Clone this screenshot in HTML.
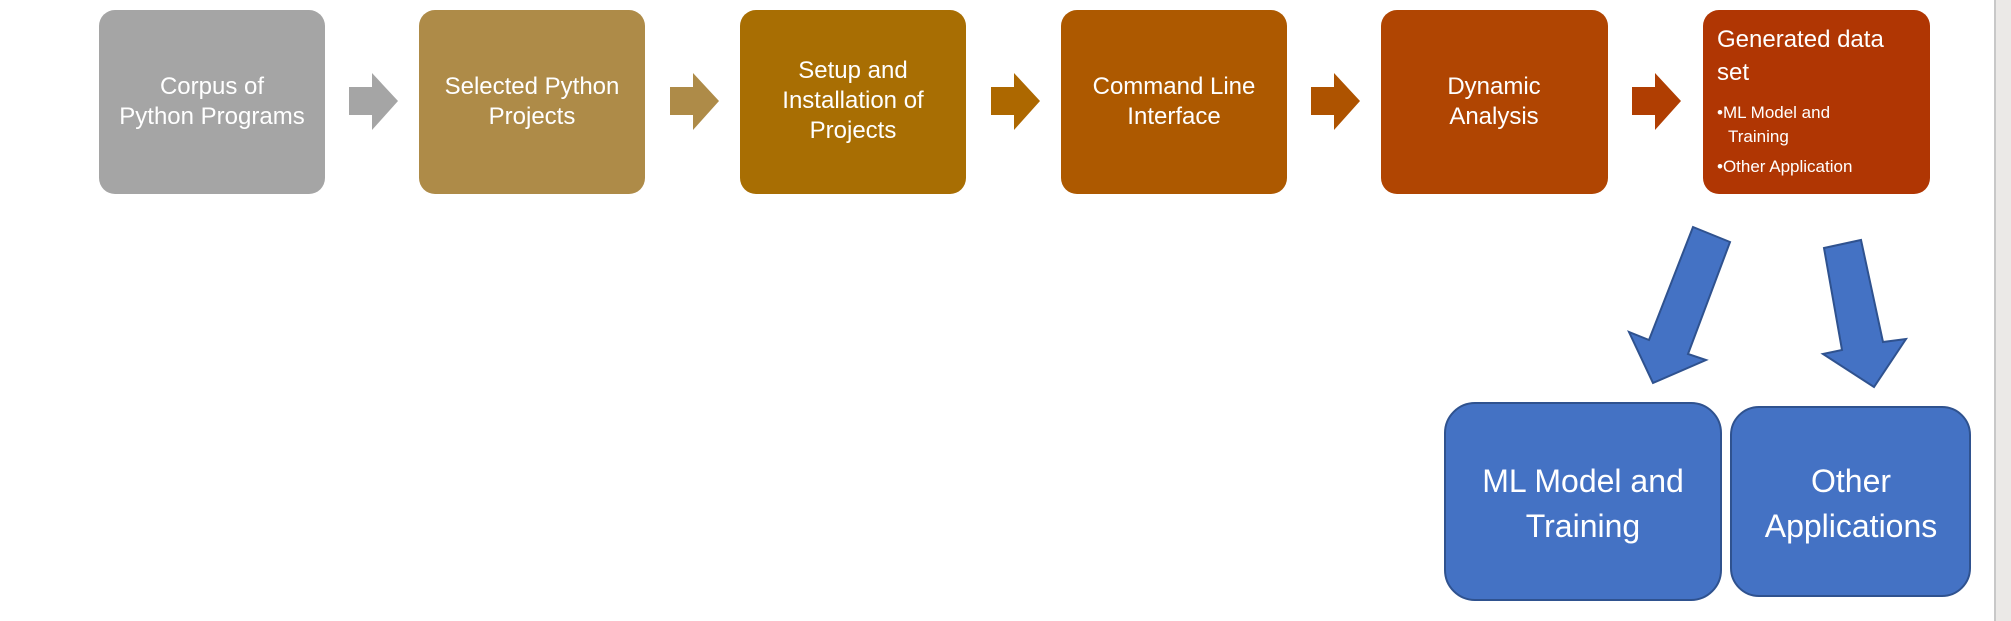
<!DOCTYPE html>
<html><head><meta charset="utf-8"><style>
html,body{margin:0;padding:0;background:#fff;}
svg{display:block;}
text{font-family:"Liberation Sans",sans-serif;fill:#fff;}
</style></head><body>
<svg width="2011" height="621" viewBox="0 0 2011 621" xmlns="http://www.w3.org/2000/svg">
<rect x="0" y="0" width="2011" height="621" fill="#fff"/>
<rect x="1996" y="0" width="15" height="621" fill="#ebe9e7"/>
<rect x="1994" y="0" width="2" height="621" fill="#c8c8c8"/>

<!-- boxes -->
<rect x="99" y="10" width="226" height="184" rx="16" fill="#a5a5a5"/>
<rect x="419" y="10" width="226" height="184" rx="16" fill="#ae8b48"/>
<rect x="740" y="10" width="226" height="184" rx="16" fill="#a86e03"/>
<rect x="1061" y="10" width="226" height="184" rx="16" fill="#ad5900"/>
<rect x="1381" y="10" width="227" height="184" rx="16" fill="#b04502"/>
<rect x="1703" y="10" width="227" height="184" rx="16" fill="#b03603"/>

<!-- arrows -->
<g>
<polygon points="349,87 372,87 372,73 398,101 372,130 372,115 349,115" fill="#a5a5a5"/>
<polygon points="670,87 693,87 693,73 719,101 693,130 693,115 670,115" fill="#ae8b48"/>
<polygon points="991,87 1014,87 1014,73 1040,101 1014,130 1014,115 991,115" fill="#ad6800"/>
<polygon points="1311,87 1334,87 1334,73 1360,101 1334,130 1334,115 1311,115" fill="#ae5300"/>
<polygon points="1632,87 1655,87 1655,73 1681,101 1655,130 1655,115 1632,115" fill="#b03e02"/>
</g>

<text font-size="24" text-anchor="middle"><tspan x="212" y="94">Corpus of</tspan><tspan x="212" y="124">Python Programs</tspan></text>
<text font-size="24" text-anchor="middle"><tspan x="532" y="94">Selected Python</tspan><tspan x="532" y="124">Projects</tspan></text>
<text font-size="24" text-anchor="middle"><tspan x="853" y="78">Setup and</tspan><tspan x="853" y="108">Installation of</tspan><tspan x="853" y="138">Projects</tspan></text>
<text font-size="24" text-anchor="middle"><tspan x="1174" y="94">Command Line</tspan><tspan x="1174" y="124">Interface</tspan></text>
<text font-size="24" text-anchor="middle"><tspan x="1494" y="94">Dynamic</tspan><tspan x="1494" y="124">Analysis</tspan></text>
<text font-size="24"><tspan x="1717" y="47">Generated data</tspan><tspan x="1717" y="80">set</tspan></text>
<text font-size="17"><tspan x="1717" y="118">•ML Model and</tspan><tspan x="1728" y="142">Training</tspan><tspan x="1717" y="172">•Other Application</tspan></text>

<!-- blue arrows -->
<polygon points="1693,227 1730,242 1688,354 1706,360 1653,383 1629,332 1649,340" fill="#4472c4" stroke="#2f528f" stroke-width="2" stroke-linejoin="miter"/>
<polygon points="1824,248 1861,240 1883,342 1906,339 1874,387 1823,354 1842,350" fill="#4472c4" stroke="#2f528f" stroke-width="2"/>

<!-- blue boxes -->
<rect x="1445" y="403" width="276" height="197" rx="30" fill="#4472c4" stroke="#2f528f" stroke-width="2"/>
<rect x="1731" y="407" width="239" height="189" rx="28" fill="#4472c4" stroke="#2f528f" stroke-width="2"/>
<text font-size="32" text-anchor="middle"><tspan x="1583" y="492">ML Model and</tspan><tspan x="1583" y="537">Training</tspan></text>
<text font-size="32" text-anchor="middle"><tspan x="1851" y="492">Other</tspan><tspan x="1851" y="537">Applications</tspan></text>
</svg>
</body></html>
